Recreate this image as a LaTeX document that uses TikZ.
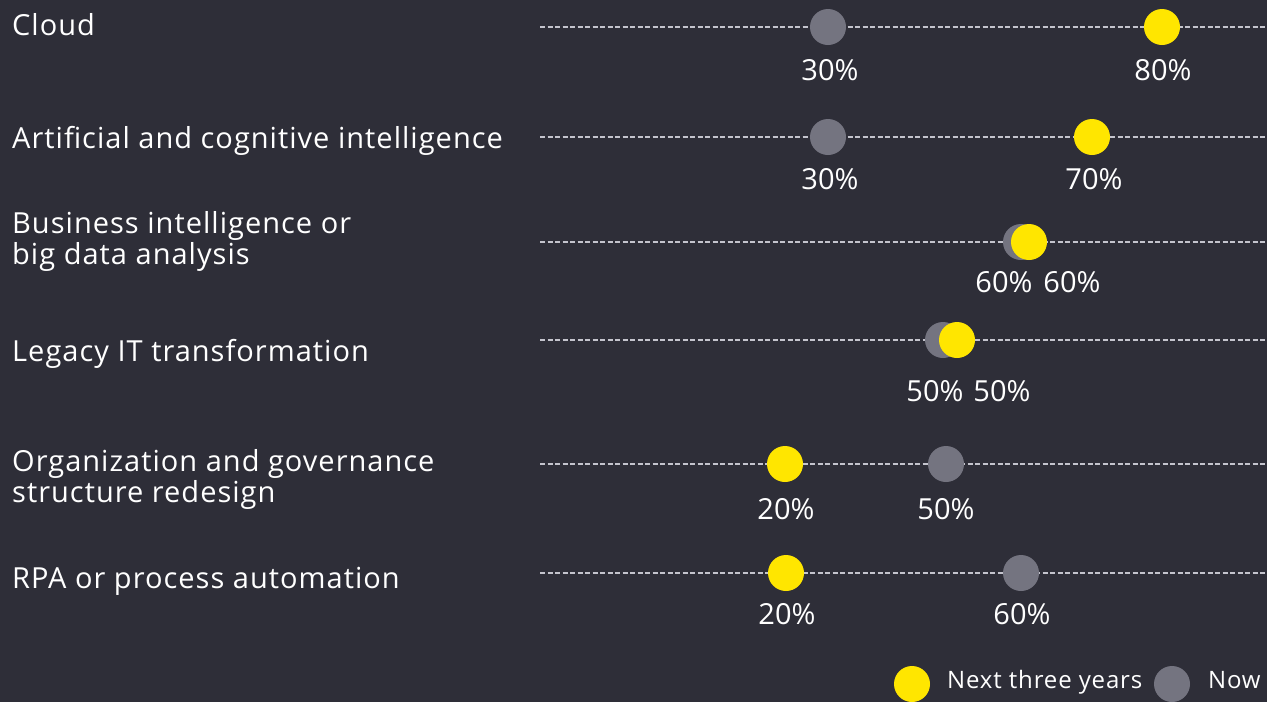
\documentclass[tikz,border=0pt]{standalone}
\usepackage{fontspec}
\setmainfont{Open Sans}
\newfontfamily\labfont[LetterSpace=3.5]{Open Sans}
\definecolor{bg}{HTML}{2E2E38}
\definecolor{eyyellow}{HTML}{FFE600}
\definecolor{eygrey}{HTML}{747480}
\definecolor{dashc}{HTML}{C4C4CD}
\tikzset{
  lab/.style={anchor=base west,inner sep=0pt,text=white,font=\labfont\fontsize{29}{31}\selectfont,align=left},
  leg/.style={anchor=base west,inner sep=0pt,text=white,font=\labfont\fontsize{24}{26}\selectfont},
  pct/.style={anchor=base,inner sep=0pt,text=white,font=\fontsize{29}{31}\selectfont},
  guide/.style={dashc,line width=1.6pt,dash pattern=on 5pt off 2.5pt},
  nowdot/.style={circle,fill=eygrey,minimum size=36pt,inner sep=0pt},
  nextdot/.style={circle,fill=eyyellow,minimum size=36pt,inner sep=0pt},
}
\begin{document}
\begin{tikzpicture}[x=1pt,y=-1pt]
\fill[bg] (0,0) rectangle (1267,702);
\useasboundingbox (0,0) rectangle (1267,702);
% labels
\node[lab] (l1) at (12,35) {Cloud};
\node[lab] (l2) at (12,148) {Artificial and cognitive intelligence};
\node[lab,anchor=west] (l3) at (12,241) {Business intelligence or\\big data analysis};
\node[lab] (l4) at (12,361) {Legacy IT transformation};
\node[lab,anchor=west] (l5) at (12,479) {Organization and governance\\structure redesign};
\node[lab] (l6) at (12,588) {RPA or process automation};
% guide lines
\foreach \n/\y in {1/27,2/137,3/242,4/340,5/464,6/573}{
  \coordinate (s\n) at (540,\y);
  \coordinate (e\n) at (1267,\y);
  \draw[guide] (s\n) -- (e\n);
}
% dots
\node[nowdot] (c1n) at (828,27) {};
\node[nextdot] (c1x) at (1162,27) {};
\node[nowdot] (c2n) at (828,137) {};
\node[nextdot] (c2x) at (1092,137) {};
\node[nowdot] (c3n) at (1021,242) {};
\node[nextdot] (c3x) at (1029,242) {};
\node[nowdot] (c4n) at (943,340) {};
\node[nextdot] (c4x) at (957,340) {};
\node[nextdot] (c5x) at (785,464) {};
\node[nowdot] (c5n) at (946,464) {};
\node[nextdot] (c6x) at (786,573) {};
\node[nowdot] (c6n) at (1021,573) {};
% values
\node[pct] (v1n) at (830,80) {30\%};
\node[pct] (v1x) at (1163,80) {80\%};
\node[pct] (v2n) at (830,189) {30\%};
\node[pct] (v2x) at (1094,189) {70\%};
\node[pct] (v3n) at (1004,292) {60\%};
\node[pct] (v3x) at (1072,292) {60\%};
\node[pct] (v4n) at (935,401) {50\%};
\node[pct] (v4x) at (1002,401) {50\%};
\node[pct] (v5x) at (786,519) {20\%};
\node[pct] (v5n) at (946,519) {50\%};
\node[pct] (v6x) at (787,624) {20\%};
\node[pct] (v6n) at (1022,624) {60\%};
% legend
\node[nextdot] (kx) at (912,684) {};
\node[leg] (kxt) at (947,688) {Next three years};
\node[nowdot] (kn) at (1172,684) {};
\node[leg] (knt) at (1208,688) {Now};
\end{tikzpicture}
\end{document}
